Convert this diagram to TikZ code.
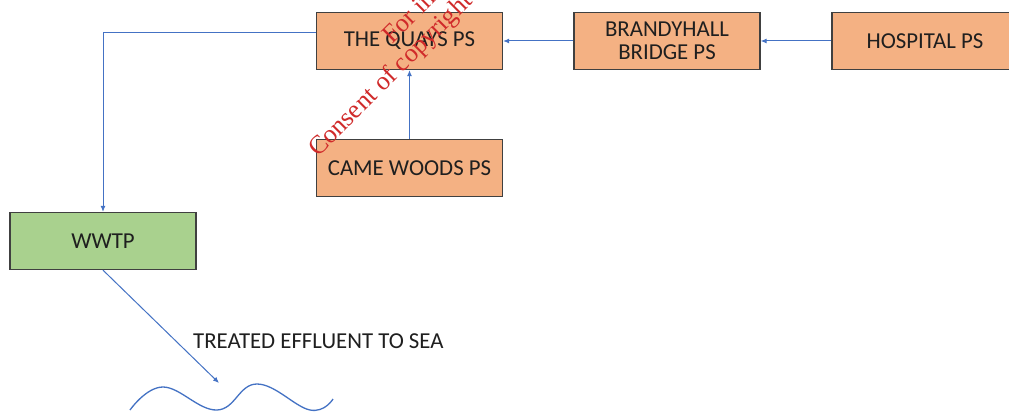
\documentclass[tikz,border=0pt]{standalone}
\usepackage{fontspec}
\setmainfont{Carlito}
\newfontfamily\wmfont{Liberation Serif}
\usetikzlibrary{arrows.meta}
\definecolor{boxorange}{HTML}{F4B183}
\definecolor{boxgreen}{HTML}{A9D18E}
\definecolor{edgegray}{HTML}{404040}
\definecolor{flow}{HTML}{4472C4}
\definecolor{wmred}{HTML}{D02A2A}
\begin{document}
\begin{tikzpicture}[x=1pt,y=-1pt,
  psbox/.style={draw=edgegray,line width=1.3pt,fill=boxorange,minimum width=186pt,minimum height=57pt,inner sep=0pt,font=\fontsize{22.8}{23}\selectfont,text=black!88,align=center},
  flowline/.style={draw=flow,line width=1pt,-{Latex[length=6pt,width=5pt]}},
  wavestyle/.style={draw=flow,line width=1.3pt},
  wm/.style={font=\wmfont\fontsize{26}{28}\selectfont,text=wmred,rotate=45,inner sep=0pt,anchor=base west},
  lbl/.style={font=\fontsize{22.8}{23}\selectfont,text=black!88,inner sep=0pt}]
\useasboundingbox (0,0) rectangle (1009,412);
\clip (0,0) rectangle (1009,412);
\fill[white] (0,0) rectangle (1009,412);
\node[psbox] (quays) at (409.5,41) {THE QUAYS PS};
\node[psbox] (brandy) at (667,41) {BRANDYHALL\\BRIDGE PS};
\node[psbox] (hosp) at (925,41) {HOSPITAL PS};
\node[psbox] (came) at (409.5,168) {CAME WOODS PS};
\node[psbox,fill=boxgreen] (wwtp) at (103,241) {WWTP};
\draw[flowline] (hosp.west) -- (brandy.east);
\draw[flowline] (brandy.west) -- (quays.east);
\draw[flowline] (came.north) -- (quays.south);
\draw[flowline] ([yshift=8pt]quays.west) -| (wwtp.north);
\coordinate (sea) at (219,383);
\draw[flowline] (wwtp.south) -- (sea);
\draw[wavestyle] plot[smooth,tension=0.7] coordinates {(130,410) (163,387) (217,410) (257,384) (310,410) (333,399)};
\node[lbl,anchor=west] (label) at (193,341) {TREATED EFFLUENT TO SEA};
\node[wm] (wm2) at (318,158) {Consent of copyright owner required for any other use.};
\node[wm] (wm1) at (392,45) {For inspection purposes only.};
\end{tikzpicture}
\end{document}
